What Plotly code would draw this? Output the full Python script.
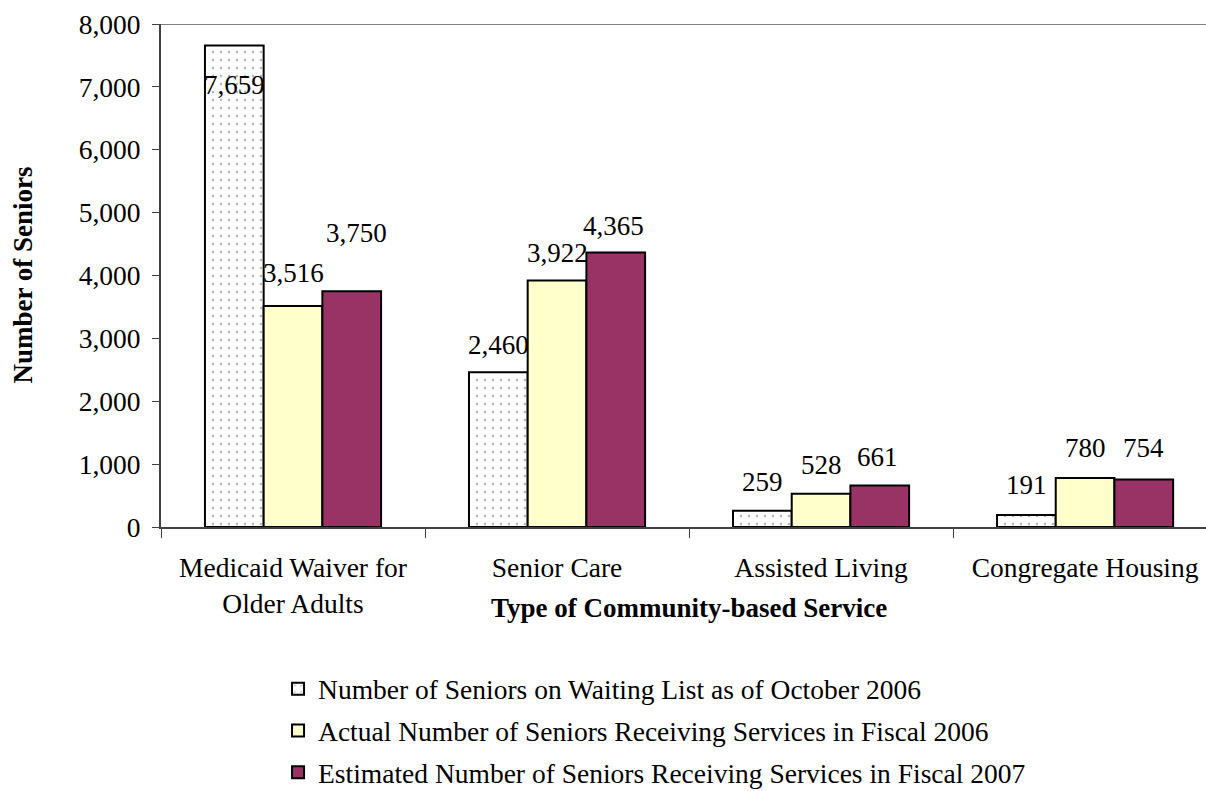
import plotly.graph_objects as go

categories = ["Medicaid Waiver for<br>Older Adults", "Senior Care", "Assisted Living", "Congregate Housing"]
series_names = [
    "Number of Seniors on Waiting List as of October 2006",
    "Actual Number of Seniors Receiving Services in Fiscal 2006",
    "Estimated Number of Seniors Receiving Services in Fiscal 2007",
]
waiting_2006 = [7659, 2460, 259, 191]
actual_2006 = [3516, 3922, 528, 780]
estimated_2007 = [3750, 4365, 661, 754]
y_ticks = [0, 1000, 2000, 3000, 4000, 5000, 6000, 7000, 8000]

# label pixel offsets (styling) per series / category
label_yshift = [
    [-40, 27, 29, 30],
    [33, 27, 29, 30],
    [58, 27, 28, 32],
]
label_xshift = [
    [0, 0, 0, 0],
    [0, 0, 0, 0],
    [5, -2, -2, 0],
]

FONT = "Liberation Serif"
FS = 27

fig = go.Figure()
series = [waiting_2006, actual_2006, estimated_2007]
colors = ["white", "#FFFFCC", "#993366"]
for k, (name, vals, col) in enumerate(zip(series_names, series, colors)):
    marker = dict(color=col, line=dict(color="black", width=2))
    if k == 0:
        marker["pattern"] = dict(shape=".", fgcolor="#6a6a6a", bgcolor="white",
                                 size=8, solidity=0.07, fillmode="overlay")
    fig.add_trace(go.Bar(x=categories, y=vals, name=name, marker=marker,
                         legendgroup=str(k)))

bar_w = (1 - 0.333) / 3
for k, vals in enumerate(series):
    for i, v in enumerate(vals):
        fig.add_annotation(x=i + (k - 1) * bar_w, y=v, text=f"{v:,}", showarrow=False,
                           xref="x", yref="y", yanchor="middle", xanchor="center",
                           yshift=label_yshift[k][i], xshift=label_xshift[k][i],
                           font=dict(family=FONT, size=FS, color="black"))

fig.add_annotation(text="<b>Number of Seniors</b>", textangle=-90, xref="paper", yref="paper",
                   x=-0.133, y=0.5, xanchor="center", yanchor="middle", showarrow=False,
                   font=dict(family=FONT, size=27, color="black"))
fig.add_annotation(text="<b>Type of Community-based Service</b>", xref="paper", yref="paper",
                   x=0.5053, y=-0.161, xanchor="center", yanchor="middle", showarrow=False,
                   font=dict(family=FONT, size=27, color="black"))

fig.add_shape(type="line", xref="paper", yref="y", x0=0, x1=1, y0=8000, y1=8000,
              line=dict(color="#808080", width=2))

fig.update_layout(
    width=1206, height=791,
    margin=dict(l=161, r=0, t=24, b=264, autoexpand=False),
    paper_bgcolor="white", plot_bgcolor="white",
    barmode="group", bargap=0.333, bargroupgap=0,
    font=dict(family=FONT, size=FS, color="black"),
    legend=dict(x=0.112, y=-0.273, xanchor="left", yanchor="top", traceorder="grouped",
                tracegroupgap=3, font=dict(family=FONT, size=27.5, color="black"),
                bgcolor="rgba(0,0,0,0)"),
    xaxis=dict(range=[-0.5, 3.458], showline=True, linecolor="#404040", linewidth=2,
               ticks="outside", ticklen=9, tickcolor="#404040", tickson="boundaries",
               showgrid=False, tickfont=dict(family=FONT, size=27.5), ticklabelstandoff=15),
    yaxis=dict(range=[0, 8000], tickvals=y_ticks, tickformat=",d", showline=True,
               linecolor="#404040", linewidth=2, ticks="outside", ticklen=7,
               tickcolor="#404040", showgrid=False, zeroline=False,
               tickfont=dict(family=FONT, size=27.5), ticklabelstandoff=6),
)

fig.write_html("out.html")
